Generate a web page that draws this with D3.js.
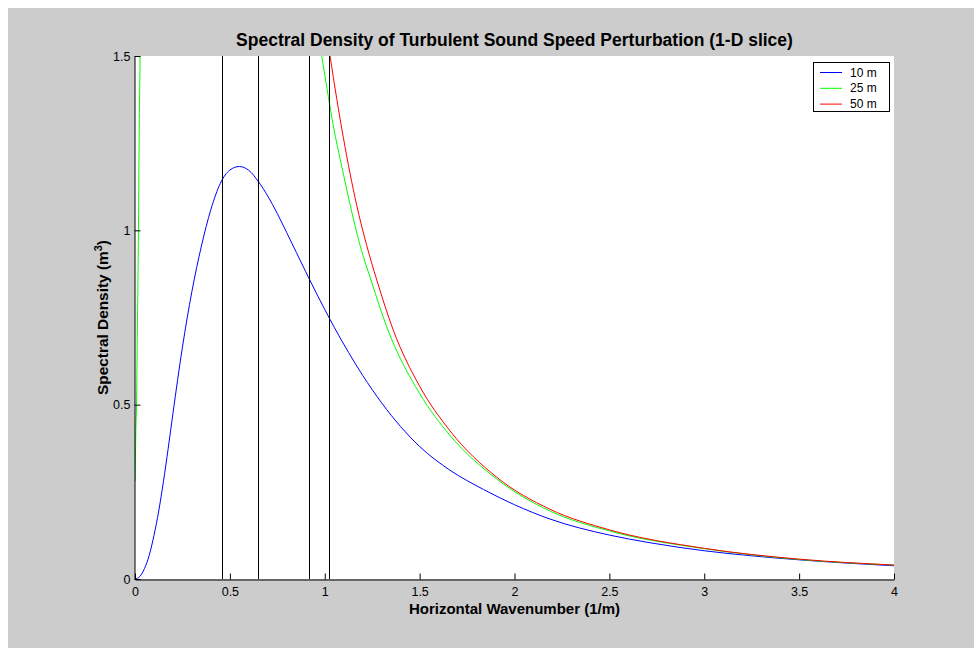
<!DOCTYPE html>
<html>
<head>
<meta charset="utf-8">
<script src="https://cdn.jsdelivr.net/npm/d3@7"></script>
<style>
  body { margin: 0; background: #ffffff; }
  svg { display: block; font-family: "Liberation Sans", Arial, Helvetica, sans-serif; }
</style>
</head>
<body>
<svg id="chart" width="974" height="648"></svg>
<script>
// values: [wavenumber, density]
var blue10 = [[0,0],[0.025,0.007],[0.05,0.03],[0.075,0.068],[0.1,0.125],[0.125,0.195],
  [0.15,0.28],[0.175,0.375],[0.2,0.475],[0.25,0.665],[0.3,0.825],[0.35,0.955],[0.4,1.06],
  [0.45,1.135],[0.5,1.173],[0.55,1.183],[0.6,1.172],[0.65,1.14],[0.7,1.098],[0.75,1.048],
  [0.8,0.993],[0.85,0.937],[0.9,0.881],[0.95,0.826],[1.0,0.773],[1.05,0.722],[1.2,0.584],
  [1.3,0.505],[1.4,0.437],[1.5,0.38],[1.66,0.312],[1.836,0.257],[2.0,0.213],[2.187,0.172],
  [2.5,0.126],[2.714,0.104],[3.0,0.081],[3.24,0.067],[3.5,0.055],[3.77,0.045],[4.0,0.038]];
var green25 = [[0.001,0.28],[0.004,0.41],[0.008,0.5],[0.012,0.69],[0.018,0.99],[0.021,1.21],
  [0.027,1.5],null,[0.984,1.5],[1.019,1.383],[1.045,1.3],[1.089,1.185],[1.133,1.075],
  [1.186,0.957],[1.247,0.852],[1.326,0.724],[1.5,0.532],[1.66,0.412],[1.906,0.287],
  [2.187,0.195],[2.5,0.138],[3.0,0.087],[3.5,0.056],[4.0,0.040]];
var red50 = [[1.028,1.5],[1.063,1.378],[1.098,1.266],[1.133,1.164],[1.168,1.073],[1.221,0.957],
  [1.274,0.858],[1.361,0.714],[1.5,0.553],[1.66,0.425],[1.906,0.292],[2.187,0.2],
  [2.5,0.141],[3.0,0.088],[3.5,0.057],[4.0,0.040]];
var markers = [0.46, 0.647, 0.919, 1.022];
var xTicks = [0, 0.5, 1, 1.5, 2, 2.5, 3, 3.5, 4];
var yTicks = [0, 0.5, 1, 1.5];
var seriesNames = ["10 m", "25 m", "50 m"];
var seriesColors = ["#0000ff", "#00ff00", "#ff0000"];

var svg = d3.select("#chart");
// grey figure background, offset like the original window
svg.append("rect").attr("x", 8).attr("y", 8).attr("width", 966).attr("height", 640)
  .attr("fill", "#cccccc");

var pLeft = 135, pRight = 894, pTop = 56, pBottom = 579;
var x = d3.scaleLinear().domain([0, 4]).range([pLeft, pRight]);
var y = d3.scaleLinear().domain([0, 1.5]).range([pBottom, pTop]);

svg.append("rect").attr("x", pLeft).attr("y", pTop)
  .attr("width", pRight - pLeft).attr("height", pBottom - pTop).attr("fill", "#ffffff");

svg.append("clipPath").attr("id", "clip").append("rect")
  .attr("x", pLeft).attr("y", pTop).attr("width", pRight - pLeft).attr("height", pBottom - pTop);

var plotBody = svg.append("g").attr("clip-path", "url(#clip)");

var line = d3.line()
  .defined(function(d) { return d != null; })
  .curve(d3.curveMonotoneX)
  .x(function(d) { return x(d[0]); })
  .y(function(d) { return y(d[1]); });

[blue10, green25, red50].forEach(function(s, i) {
  plotBody.append("path").datum(s)
    .attr("d", line)
    .attr("fill", "none")
    .attr("stroke", seriesColors[i])
    .attr("stroke-width", 1);
});

plotBody.selectAll(".marker").data(markers).enter().append("line")
  .attr("x1", function(d) { return Math.round(x(d)) + 0.5; })
  .attr("x2", function(d) { return Math.round(x(d)) + 0.5; })
  .attr("y1", y(0)).attr("y2", y(1.5))
  .attr("stroke", "#000").attr("stroke-width", 1);

// axes, ticks pointing inward like matlab
var xAxis = d3.axisBottom(x).tickValues(xTicks).tickFormat(d3.format("")).tickSizeInner(-6).tickSizeOuter(0).tickPadding(8);
var yAxis = d3.axisLeft(y).tickValues(yTicks).tickFormat(d3.format("")).tickSizeInner(-6).tickSizeOuter(0).tickPadding(4);

var gx = svg.append("g").attr("transform", "translate(0," + (pBottom + 0.5) + ")").call(xAxis);
var gy = svg.append("g").attr("transform", "translate(" + (pLeft - 0.5) + ",0)").call(yAxis);
[gx, gy].forEach(function(g) {
  g.selectAll("text").attr("fill", "#000").style("font-size", "12.5px")
    .style("font-family", "'Liberation Sans', Arial, sans-serif");
  g.selectAll("line").attr("stroke", "#000");
  g.select(".domain").attr("stroke", "#000");
});

svg.append("text")
  .attr("x", (pLeft + pRight) / 2).attr("y", 46)
  .attr("text-anchor", "middle")
  .style("font-size", "17.5px").style("font-weight", "bold")
  .text("Spectral Density of Turbulent Sound Speed Perturbation (1-D slice)");

svg.append("text")
  .attr("x", (pLeft + pRight) / 2).attr("y", 614)
  .attr("text-anchor", "middle")
  .style("font-size", "15px").style("font-weight", "bold")
  .text("Horizontal Wavenumber (1/m)");

var ylab = svg.append("text")
  .attr("transform", "translate(108," + ((pTop + pBottom) / 2) + ") rotate(-90)")
  .attr("text-anchor", "middle")
  .style("font-size", "15.4px").style("font-weight", "bold");
ylab.append("tspan").text("Spectral Density (m");
ylab.append("tspan").attr("dy", -6).style("font-size", "11px").text("3");
ylab.append("tspan").attr("dy", 6).text(")");

// legend
var legend = svg.append("g");
legend.append("rect").attr("x", 813.5).attr("y", 62.5).attr("width", 76).attr("height", 49)
  .attr("fill", "#fff").attr("stroke", "#000");
var rows = legend.selectAll(".row").data(seriesNames).enter().append("g")
  .attr("transform", function(d, i) { return "translate(0," + (72 + i * 15.8) + ")"; });
rows.append("line").attr("x1", 820).attr("x2", 842).attr("y1", 0.5).attr("y2", 0.5)
  .attr("stroke", function(d, i) { return seriesColors[i]; });
rows.append("text").attr("x", 850).attr("y", 4.5).style("font-size", "12px")
  .text(function(d) { return d; });
</script>
</body>
</html>
